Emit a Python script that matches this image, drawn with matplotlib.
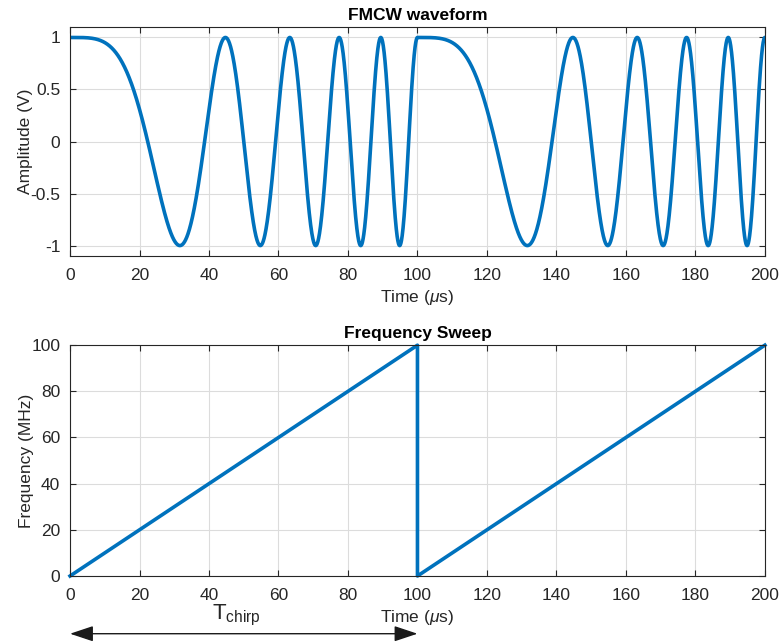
import numpy as np
import matplotlib
matplotlib.use("Agg")
import matplotlib.pyplot as plt

plt.rcParams['font.family'] = ['Liberation Sans', 'DejaVu Sans']
plt.rcParams['mathtext.fontset'] = 'custom'
plt.rcParams['mathtext.it'] = 'Liberation Sans:italic'
plt.rcParams['mathtext.rm'] = 'Liberation Sans'

# Frequency sweep (sawtooth, two chirps)
sweep_time = [0, 100, 100, 200]      # us
sweep_freq = [0, 100, 0, 100]        # MHz
chirp_period = 100                   # us
cycles_per_chirp = 5                 # full cycles of the drawn waveform in one chirp

time_ticks = [0, 20, 40, 60, 80, 100, 120, 140, 160, 180, 200]
amp_ticks = [-1, -0.5, 0, 0.5, 1]
amp_labels = ['-1', '-0.5', '0', '0.5', '1']
freq_ticks = [0, 20, 40, 60, 80, 100]

blue = '#0072BD'
dark = '#262626'

# waveform: phase from the (scaled) linear sweep, restarting each chirp
t = np.linspace(0, 200, 4001)
tau = np.mod(t, chirp_period)
tau[-1] = chirp_period
phase = 2 * np.pi * cycles_per_chirp * (tau / chirp_period) ** 2
wave = np.cos(phase)

fig = plt.figure(figsize=(7.79, 6.43), dpi=100)
ax1 = fig.add_axes([0.0899, 0.6019, 0.892, 0.356])
ax2 = fig.add_axes([0.0899, 0.1042, 0.892, 0.359])


def style(ax):
    ax.grid(True, color='#dcdcdc', linewidth=0.8)
    ax.set_axisbelow(True)
    ax.tick_params(direction='in', top=True, right=True, labelsize=12.5,
                   colors=dark, length=4, width=0.8)
    ax.tick_params(axis='x', pad=9)
    ax.tick_params(axis='y', pad=7)
    for s in ax.spines.values():
        s.set_color(dark)
        s.set_linewidth(0.8)
    ax.set_xlim(0, 200)
    ax.set_xticks(time_ticks)
    ax.set_xlabel(r'Time ($\mu$s)', fontsize=12.5, color=dark, labelpad=3)


ax1.plot(t, wave, color=blue, linewidth=2.6)
style(ax1)
ax1.set_ylim(-1.1, 1.1)
ax1.set_yticks(amp_ticks)
ax1.set_yticklabels(amp_labels)
ax1.set_ylabel('Amplitude (V)', fontsize=12.5, color=dark, labelpad=-2)
ax1.set_title('FMCW waveform', fontsize=12.5, fontweight='bold', pad=5)

ax2.plot(sweep_time, sweep_freq, color=blue, linewidth=2.6, clip_on=False)
style(ax2)
ax2.set_ylim(0, 100)
ax2.set_yticks(freq_ticks)
ax2.set_ylabel('Frequency (MHz)', fontsize=12.5, color=dark, labelpad=-2)
ax2.set_title('Frequency Sweep', fontsize=12.5, fontweight='bold', pad=5)

# T_chirp annotation below the lower axes
ax2.annotate('', xy=(0, -0.25), xytext=(chirp_period, -0.25),
             xycoords=('data', 'axes fraction'),
             arrowprops=dict(arrowstyle='<|-|>,head_length=0.9,head_width=0.3',
                             color='#1a1a1a', lw=1, mutation_scale=16,
                             shrinkA=0, shrinkB=0),
             annotation_clip=False)
ax2.text(48, -0.19, r'T$_{\mathrm{chirp}}$', transform=ax2.get_xaxis_transform(),
         ha='center', va='baseline', fontsize=16, color=dark)

fig.savefig('out.png', dpi=100)
